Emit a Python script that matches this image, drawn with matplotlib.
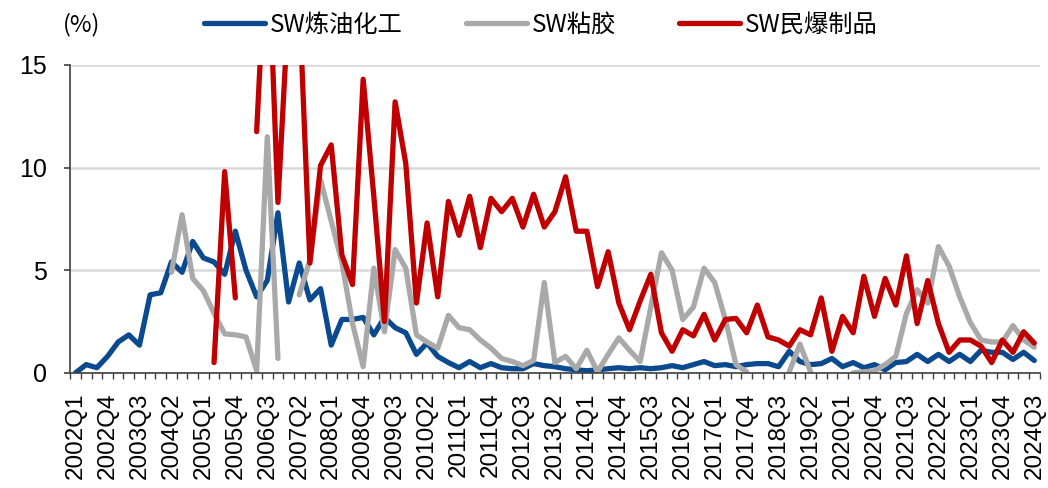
import matplotlib
matplotlib.use("Agg")
import matplotlib.pyplot as plt
import numpy as np

plt.rcParams["font.family"] = ["Liberation Sans", "Noto Sans CJK SC", "DejaVu Sans"]

nan = np.nan

# quarters 2002Q1 .. 2024Q3
quarters = [f"{y}Q{q}" for y in range(2002, 2025) for q in range(1, 5)][:91]
tick_labels = quarters[::3]

# SW炼油化工 (%)
refining = [
    0.0, 0.4, 0.25, 0.8, 1.5, 1.85, 1.35, 3.8, 3.9, 5.4,
    4.9, 6.4, 5.6, 5.4, 4.8, 6.9, 5.0, 3.7, 4.5, 7.8,
    3.45, 5.35, 3.55, 4.1, 1.35, 2.6, 2.6, 2.7, 1.85, 2.7,
    2.2, 1.95, 0.9, 1.45, 0.8, 0.5, 0.25, 0.55, 0.25, 0.45,
    0.25, 0.2, 0.2, 0.45, 0.35, 0.3, 0.2, 0.15, 0.1, 0.15,
    0.2, 0.25, 0.2, 0.25, 0.2, 0.25, 0.35, 0.25, 0.4, 0.55,
    0.35, 0.4, 0.3, 0.4, 0.45, 0.45, 0.3, 1.05, 0.55, 0.4,
    0.45, 0.7, 0.3, 0.5, 0.25, 0.4, 0.15, 0.5, 0.55, 0.9,
    0.55, 0.9, 0.55, 0.9, 0.55, 1.1, 1.0, 1.0, 0.65, 1.0,
    0.6,
]

# SW粘胶 (%)
viscose = [
    nan, nan, nan, nan, nan, nan, nan, nan, nan, 4.9,
    7.7, 4.6, 4.0, 2.9, 1.9, 1.85, 1.75, 0.1, 11.5, 0.7,
    nan, 3.8, 5.5, 9.4, 7.4, 5.4, 2.4, 0.3, 5.1, 2.0,
    6.0, 5.1, 1.85, 1.5, 1.2, 2.8, 2.2, 2.1, 1.6, 1.2,
    0.7, 0.55, 0.35, 0.6, 4.4, 0.5, 0.8, 0.2, 1.1, 0.05,
    0.9, 1.7, 1.1, 0.55, 3.2, 5.85, 5.0, 2.6, 3.2, 5.1,
    4.4, 2.6, 0.4, 0.05, nan, nan, nan, 0.05, 1.4, 0.05,
    nan, nan, nan, 0.0, 0.05, 0.1, 0.4, 0.8, 2.9, 4.05,
    3.4, 6.15, 5.2, 3.7, 2.45, 1.6, 1.5, 1.5, 2.3, 1.6,
    1.25,
]

# SW民爆制品 (%)
explosives = [
    nan, nan, nan, nan, nan, nan, nan, nan, nan, nan,
    nan, nan, nan, 0.5, 9.8, 3.65, nan, 11.75, 22.0, 8.3,
    18.0, 18.2, 5.35, 10.1, 11.1, 5.75, 4.3, 14.3, 8.6, 2.5,
    13.2, 10.2, 3.4, 7.3, 3.7, 8.35, 6.7, 8.6, 6.1, 8.5,
    7.85, 8.5, 7.1, 8.7, 7.1, 7.85, 9.55, 6.9, 6.9, 4.2,
    5.9, 3.4, 2.1, 3.5, 4.8, 1.95, 1.05, 2.1, 1.8, 2.85,
    1.6, 2.6, 2.65, 1.95, 3.3, 1.75, 1.6, 1.3, 2.1, 1.85,
    3.65, 1.05, 2.75, 1.95, 4.7, 2.75, 4.6, 3.3, 5.7, 2.4,
    4.5, 2.4, 1.0, 1.6, 1.6, 1.3, 0.5, 1.6, 1.0, 2.0,
    1.45,
]

series = [
    ("SW炼油化工", refining, "#0B4A8F"),
    ("SW粘胶", viscose, "#A9A9A9"),
    ("SW民爆制品", explosives, "#C00000"),
]

fig = plt.figure(figsize=(10.48, 4.88), dpi=100)
ax = fig.add_axes([0.067, 0.236, 0.925, 0.631])

x = np.arange(len(quarters))
for name, vals, color in series:
    ax.plot(x, vals, color=color, lw=3.8, label=name,
            solid_joinstyle="round", solid_capstyle="round")

ax.set_xlim(-0.5, len(quarters) - 0.5)
ax.set_ylim(0, 15)
ax.set_yticks([0, 5, 10, 15])
ax.grid(axis="y", color="#D9D9D9", lw=1.8)
ax.set_axisbelow(True)

for s in ["top", "right"]:
    ax.spines[s].set_visible(False)
for s in ["left", "bottom"]:
    ax.spines[s].set_color("#404040")
    ax.spines[s].set_linewidth(1.2)

ax.set_xticks(x[::3])
ax.set_xticklabels(tick_labels, rotation=90, fontsize=17.5)
ax.set_xticks(np.arange(-0.5, len(quarters), 1), minor=True)
ax.tick_params(axis="x", which="major", length=0, pad=14)
ax.tick_params(axis="x", which="minor", length=4.5, width=1, color="#404040")
ax.tick_params(axis="y", labelsize=18, length=4.5, width=1.2, color="#404040", pad=12)

fig.text(0.06, 0.949, "(%)", fontsize=17, va="center", ha="left",
         family=["Noto Sans CJK SC"])
fig.legend(loc="center", bbox_to_anchor=(0.516, 0.949), ncol=3, frameon=False,
           prop={"family": "Noto Sans CJK SC", "size": 17.5},
           handlelength=2.5, handletextpad=0.2, columnspacing=2.6)

fig.savefig("out.png", dpi=100)
